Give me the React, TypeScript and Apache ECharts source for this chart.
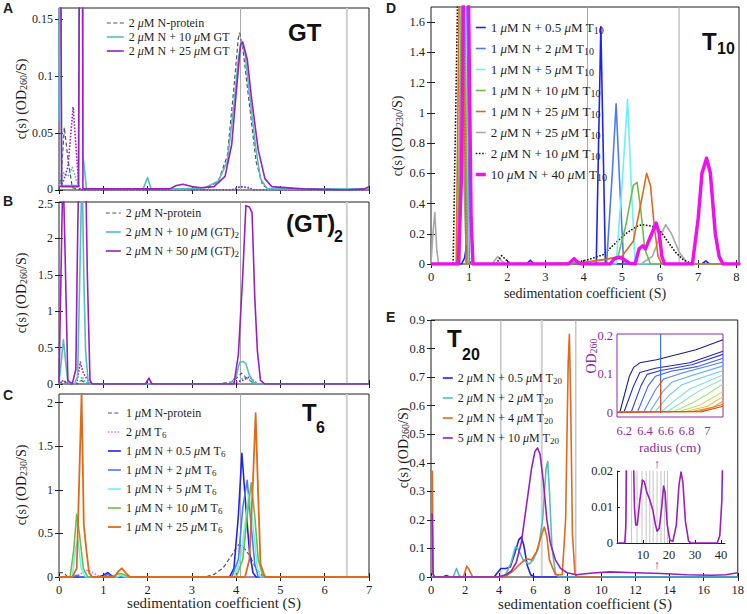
import React, { useEffect, useRef } from "react";
import * as echarts from "echarts";

const SERIF = "'Liberation Serif', 'Times New Roman', serif";
const SANS = "'Liberation Sans', Arial, sans-serif";
const INK = "#1f1f1f";
const PURPLE_AX = "#8e2aa0";

// ---------- tick values ----------
const abcXTicks = [0, 1, 2, 3, 4, 5, 6, 7];
const aYTicks = [0, 0.05, 0.1, 0.15];
const bYTicks = [0, 0.5, 1, 1.5, 2, 2.5];
const cYTicks = [0, 0.5, 1, 1.5, 2];
const dXTicks = [0, 1, 2, 3, 4, 5, 6, 7, 8];
const dYTicks = [0, 0.2, 0.4, 0.6, 0.8, 1, 1.2, 1.4, 1.6];
const eXTicks = [0, 2, 4, 6, 8, 10, 12, 14, 16, 18];
const eYTicks = [0, 0.1, 0.2, 0.3, 0.4, 0.5, 0.6, 0.7, 0.8, 0.9];
const radiusTicks = [6.2, 6.4, 6.6, 6.8, 7];
const odTicks = [0, 0.1, 0.2];
const zoomXTicks = [10, 20, 30, 40];
const zoomYTicks = [0, 0.01, 0.02];

// ---------- reference lines (S) ----------
const refLinesABC = [4.1, 6.5];
const refLinesD = [4.1, 6.5];
const refLinesE = [4.1, 6.5, 8.5];
const refLinesZoom = [3.4, 5.6, 7.7, 9.6, 11.2, 12.6, 13.9, 15.4, 16.9, 18.2, 19.4];

// ---------- Panel A : GT ----------
const aNprot = [[0, 0], [0.05, 0.012], [0.12, 0.055], [0.2, 0.028], [0.3, 0.002], [0.5, 0], [3.3, 0], [3.6, 0.008], [3.8, 0.03], [3.95, 0.09], [4.05, 0.134], [4.08, 0.138], [4.15, 0.125], [4.3, 0.075], [4.45, 0.025], [4.6, 0.004], [4.8, 0], [7, 0]];
const aN10 = [[0, 0.06], [0.03, 0.4], [0.06, 0.004], [0.44, 0.004], [0.48, 0.4], [0.52, 0.4], [0.535, 0.03], [0.56, 0.024], [0.62, 0.001], [1.9, 0.001], [2.0, 0.011], [2.08, 0.001], [2.8, 0.001], [3.3, 0.002], [3.6, 0.008], [3.8, 0.025], [3.95, 0.075], [4.05, 0.115], [4.12, 0.131], [4.2, 0.12], [4.3, 0.085], [4.45, 0.035], [4.55, 0.01], [4.7, 0.001], [7, 0.001]];
const aN25 = [[0, 0.3], [0.03, 0.3], [0.06, 0.003], [0.44, 0.003], [0.48, 0.4], [0.53, 0.4], [0.54, 0.001], [2.5, 0.001], [2.65, 0.004], [2.8, 0.005], [3.0, 0.003], [3.2, 0.002], [3.5, 0.003], [3.75, 0.012], [3.9, 0.04], [4.0, 0.085], [4.1, 0.128], [4.15, 0.13], [4.25, 0.115], [4.35, 0.08], [4.5, 0.035], [4.65, 0.01], [4.8, 0.003], [5.5, 0.001], [6.5, 0], [6.9, 0.001], [7, 0.003]];
const aN10dot = [[0, 0.004], [0.1, 0.015], [0.2, 0.012], [0.3, 0.02], [0.4, 0.008], [0.5, 0], [3.9, 0], [4.1, 0.003], [4.25, 0.002], [4.4, 0], [7, 0]];
const aN25dot = [[0, 0], [0.1, 0.008], [0.2, 0.02], [0.32, 0.073], [0.38, 0.04], [0.45, 0.002], [0.5, 0], [3.9, 0], [4.1, 0.003], [4.3, 0.002], [4.4, 0], [7, 0]];

// ---------- Panel B : (GT)2 ----------
const bNprot = [[0, 0], [0.05, 0.02], [0.1, 0.05], [0.15, 0.02], [0.25, 0], [0.45, 0], [0.5, 0.05], [0.6, 0.02], [0.7, 0], [3.6, 0], [3.9, 0.03], [4.05, 0.1], [4.12, 0.15], [4.2, 0.1], [4.35, 0.03], [4.5, 0], [7, 0]];
const bN10 = [[0, 0.02], [0.05, 0.3], [0.1, 0.61], [0.15, 0.3], [0.2, 0.02], [0.35, 0], [0.42, 0.1], [0.47, 1.5], [0.52, 3], [0.56, 1.5], [0.6, 0.45], [0.66, 0.02], [0.72, 0], [3.85, 0], [4.0, 0.1], [4.08, 0.3], [4.15, 0.31], [4.22, 0.28], [4.3, 0.12], [4.4, 0.02], [4.5, 0], [7, 0]];
const bN50 = [[0, 0.02], [0.06, 2], [0.09, 3], [0.13, 2], [0.2, 0.05], [0.3, 0], [0.38, 0.2], [0.42, 2], [0.45, 3], [0.6, 3], [0.64, 1.5], [0.7, 0.05], [0.75, 0], [1.95, 0], [2.03, 0.08], [2.1, 0], [3.95, 0], [4.05, 0.4], [4.15, 1.5], [4.22, 2.45], [4.3, 2.43], [4.36, 2.35], [4.42, 1.2], [4.48, 0.45], [4.55, 0.05], [4.65, 0], [7, 0]];
const bN10dot = [[0, 0], [0.45, 0], [0.52, 0.1], [0.6, 0.02], [0.7, 0], [3.9, 0], [4.1, 0.05], [4.2, 0.1], [4.3, 0.05], [4.45, 0], [7, 0]];
const bN50dot = [[0, 0.02], [0.1, 0.05], [0.2, 0], [0.4, 0], [0.48, 0.3], [0.55, 0.15], [0.65, 0.05], [0.75, 0], [3.9, 0], [4.15, 0.05], [4.3, 0.1], [4.4, 0.04], [4.5, 0], [7, 0]];

// ---------- Panel C : T6 ----------
const cNprot = [[0, 0.05], [0.1, 0.05], [0.2, 0], [3.3, 0], [3.5, 0.03], [3.7, 0.1], [3.9, 0.25], [4.05, 0.37], [4.15, 0.35], [4.3, 0.25], [4.45, 0.1], [4.6, 0.01], [4.8, 0], [7, 0]];
const cT6 = [[0, 0], [0.35, 0], [0.5, 0.04], [0.65, 0.08], [0.8, 0.04], [0.95, 0], [7, 0]];
const cN05 = [[0, 0], [0.9, 0], [1.0, 0.02], [1.1, 0.05], [1.2, 0.01], [1.3, 0], [3.85, 0], [3.95, 0.1], [4.05, 0.7], [4.13, 1.42], [4.22, 0.8], [4.3, 0.3], [4.38, 0.05], [4.45, 0], [7, 0]];
const cN2 = [[0, 0], [0.3, 0], [0.4, 0.02], [0.5, 0], [1.0, 0], [1.1, 0.03], [1.2, 0], [3.9, 0], [4.05, 0.2], [4.15, 0.8], [4.25, 1.11], [4.32, 0.7], [4.42, 0.15], [4.5, 0], [7, 0]];
const cN5 = [[0, 0], [0.3, 0], [0.38, 0.35], [0.43, 0.42], [0.5, 0.1], [0.6, 0], [1.3, 0], [1.4, 0.02], [1.5, 0], [3.95, 0], [4.1, 0.2], [4.2, 0.6], [4.29, 0.95], [4.38, 0.6], [4.48, 0.1], [4.55, 0], [7, 0]];
const cN10 = [[0, 0], [0.25, 0], [0.33, 0.3], [0.4, 0.72], [0.46, 0.5], [0.55, 0.1], [0.65, 0], [1.2, 0], [1.3, 0.03], [1.4, 0.04], [1.5, 0.02], [1.6, 0], [4.0, 0], [4.15, 0.2], [4.25, 0.7], [4.34, 1.08], [4.42, 0.7], [4.5, 0.2], [4.6, 0.02], [4.7, 0], [7, 0]];
const cN25 = [[0, 0], [0.3, 0], [0.4, 0.1], [0.45, 1.0], [0.51, 2.1], [0.56, 0.6], [0.62, 0.3], [0.68, 0.05], [0.75, 0], [1.25, 0], [1.35, 0.07], [1.42, 0.1], [1.5, 0.05], [1.6, 0], [4.2, 0], [4.3, 0.2], [4.38, 1.1], [4.44, 1.88], [4.5, 0.9], [4.55, 0.15], [4.65, 0], [7, 0]];

// ---------- Panel D : T10 ----------
const dN05 = [[0, 0], [0.8, 0], [0.88, 0.04], [0.93, 0.12], [0.98, 0.02], [1.05, 0], [2.5, 0], [2.6, 0.025], [2.7, 0], [4.33, 0], [4.45, 1.57], [4.57, 0], [7.1, 0], [7.2, 0.02], [7.3, 0], [8.1, 0]];
const dN2 = [[0, 0], [0.75, 0], [0.85, 1.8], [0.93, 1.8], [1.0, 0], [4.6, 0], [4.75, 0.6], [4.85, 1.06], [4.95, 0.5], [5.05, 0], [8.1, 0]];
const dN5 = [[0, 0], [0.72, 0], [0.82, 1.8], [0.9, 1.8], [0.98, 0], [3.7, 0], [3.8, 0.02], [3.9, 0], [4.85, 0], [5.0, 0.5], [5.15, 1.09], [5.25, 0.5], [5.35, 0], [8.1, 0]];
const dN10 = [[0, 0], [0.7, 0], [0.8, 1.8], [0.88, 1.8], [0.96, 0], [2.2, 0], [2.3, 0.005], [2.5, 0], [4.0, 0.01], [4.6, 0.03], [4.9, 0.05], [5.1, 0.25], [5.3, 0.52], [5.4, 0.54], [5.5, 0.35], [5.6, 0.1], [5.75, 0], [8.1, 0]];
const dN25 = [[0, 0], [0.66, 0], [0.74, 1.8], [0.84, 1.8], [0.92, 0], [3.7, 0], [4.0, 0.01], [4.5, 0.03], [5.0, 0.05], [5.3, 0.15], [5.5, 0.4], [5.65, 0.6], [5.75, 0.52], [5.85, 0.25], [5.95, 0.05], [6.05, 0], [8.1, 0]];
const d2N25 = [[0, 0], [0.05, 0.2], [0.1, 0.34], [0.15, 0.1], [0.2, 0], [0.7, 0], [0.8, 1.8], [0.87, 0.5], [0.93, 0], [1.6, 0], [1.75, 0.05], [1.85, 0.02], [1.95, 0], [5.5, 0], [5.8, 0.05], [6.0, 0.18], [6.15, 0.26], [6.3, 0.2], [6.5, 0.08], [6.7, 0.01], [6.8, 0], [8.1, 0]];
const d2N10 = [[0, 0], [0.58, 0], [0.7, 1.8], [0.86, 1.8], [0.95, 0.2], [1.02, 0], [1.7, 0], [1.85, 0.055], [2.0, 0.02], [2.1, 0], [3.0, 0], [3.5, 0.005], [4.0, 0.02], [4.5, 0.06], [4.8, 0.13], [5.1, 0.2], [5.4, 0.25], [5.55, 0.26], [5.8, 0.25], [6.0, 0.22], [6.2, 0.15], [6.4, 0.08], [6.6, 0.03], [6.8, 0.005], [7.0, 0], [8.1, 0]];
const d10N40 = [[0, 0], [0.72, 0], [0.8, 0.6], [0.85, 1.8], [0.98, 1.8], [1.05, 0.3], [1.1, 0], [3.6, 0], [3.75, 0.035], [3.85, 0.01], [3.95, 0], [4.7, 0], [4.8, 0.035], [4.95, 0.045], [5.05, 0.03], [5.2, 0.005], [5.35, 0], [5.45, 0.1], [5.55, 0.12], [5.62, 0.1], [5.75, 0.18], [5.9, 0.27], [5.98, 0.2], [6.05, 0.05], [6.12, 0], [6.85, 0], [7.0, 0.3], [7.1, 0.6], [7.22, 0.7], [7.32, 0.6], [7.45, 0.2], [7.55, 0.05], [7.65, 0], [8.1, 0]];

// ---------- Panel E : T20 ----------
const eN05 = [[0, 0], [0.7, 0], [0.9, 0.005], [1.1, 0], [3.7, 0], [3.9, 0.015], [4.1, 0.03], [4.4, 0.03], [4.65, 0.035], [4.9, 0.08], [5.15, 0.13], [5.3, 0.14], [5.45, 0.11], [5.65, 0.04], [5.85, 0.008], [6.1, 0], [18, 0]];
const eN2 = [[0, 0], [1.3, 0], [1.5, 0.03], [1.65, 0.005], [1.8, 0], [4.0, 0], [4.4, 0.01], [4.7, 0.05], [4.95, 0.105], [5.1, 0.1], [5.4, 0.06], [5.75, 0.045], [6.0, 0.06], [6.3, 0.1], [6.55, 0.2], [6.75, 0.38], [6.85, 0.405], [6.95, 0.3], [7.1, 0.1], [7.3, 0.015], [7.5, 0], [18, 0]];
const eN4 = [[0, 0.37], [0.08, 0.37], [0.12, 0.01], [0.2, 0], [1.9, 0], [2.1, 0.038], [2.2, 0.03], [2.45, 0], [4.3, 0], [4.8, 0.02], [5.3, 0.05], [5.6, 0.064], [5.9, 0.06], [6.2, 0.09], [6.5, 0.15], [6.65, 0.175], [6.8, 0.14], [6.95, 0.06], [7.3, 0.008], [7.7, 0.008], [7.9, 0.2], [8.05, 0.75], [8.12, 0.85], [8.2, 0.6], [8.3, 0.15], [8.45, 0.01], [8.6, 0], [10, 0]];
const eN10 = [[0, 0.22], [0.07, 0.22], [0.12, 0.01], [0.2, 0], [3.9, 0], [4.3, 0.005], [4.7, 0.02], [5.0, 0.05], [5.3, 0.12], [5.6, 0.25], [5.9, 0.38], [6.1, 0.44], [6.25, 0.452], [6.4, 0.43], [6.6, 0.33], [6.8, 0.2], [7.0, 0.12], [7.3, 0.06], [7.6, 0.03], [8.0, 0.015], [8.5, 0.008], [9.5, 0.014], [10.5, 0.018], [12, 0.015], [13.5, 0.012], [15, 0.008], [16.5, 0.006], [17.3, 0.008], [18, 0.015]];

// ---------- Inset: radial absorbance scans (radius cm, OD260) ----------
const scanColors = ["#1b1b8a", "#2424b8", "#2f3fd8", "#3d5ff0", "#4f83f8", "#62a8fa", "#72cbf0", "#7fe0de", "#8ee6b4", "#a6e67e", "#c8de52", "#e6c43e", "#eea032", "#e6782a", "#d84a20"];
const scans = [
  [[6.13, 0.003], [6.16, 0.004], [6.25, 0.096], [6.29, 0.118], [6.35, 0.13], [6.51, 0.138], [6.7, 0.151], [6.89, 0.164], [7.15, 0.19]],
  [[6.13, 0.003], [6.2, 0.004], [6.29, 0.07], [6.35, 0.105], [6.5, 0.116], [6.83, 0.13], [7.15, 0.16]],
  [[6.13, 0.003], [6.27, 0.004], [6.36, 0.07], [6.42, 0.1], [6.55, 0.11], [6.85, 0.125], [7.15, 0.152]],
  [[6.13, 0.003], [6.33, 0.004], [6.43, 0.07], [6.5, 0.095], [6.65, 0.108], [6.9, 0.12], [7.15, 0.142]],
  [[6.13, 0.003], [6.39, 0.004], [6.5, 0.06], [6.58, 0.088], [6.75, 0.103], [7.15, 0.132]],
  [[6.13, 0.003], [6.45, 0.004], [6.57, 0.055], [6.66, 0.08], [6.85, 0.097], [7.15, 0.122]],
  [[6.13, 0.003], [6.5, 0.004], [6.63, 0.045], [6.75, 0.072], [6.95, 0.092], [7.15, 0.11]],
  [[6.13, 0.003], [6.56, 0.004], [6.7, 0.035], [6.83, 0.062], [7.15, 0.098]],
  [[6.13, 0.003], [6.62, 0.004], [6.77, 0.03], [6.92, 0.057], [7.15, 0.088]],
  [[6.13, 0.003], [6.68, 0.004], [6.85, 0.025], [7.0, 0.048], [7.15, 0.075]],
  [[6.13, 0.003], [6.74, 0.004], [6.93, 0.02], [7.15, 0.055]],
  [[6.13, 0.003], [6.8, 0.004], [7.0, 0.017], [7.15, 0.042]],
  [[6.13, 0.003], [6.86, 0.004], [7.05, 0.014], [7.15, 0.03]],
  [[6.13, 0.002], [6.92, 0.004], [7.15, 0.022]],
  [[6.13, 0.001], [6.95, 0.003], [7.15, 0.017]],
];
const scanSpikeBlue = [[6.55, 0], [6.55, 0.205]];
const scanSpikeRed = [[6.55, 0], [6.55, 0.088]];

// ---------- Inset: zoomed c(s) of 5 uM N + 10 uM T20 ----------
const zoomCs = [[0, 0], [3.0, 0], [3.4, 0.005], [3.7, 0.025], [6.3, 0.025], [6.7, 0.01], [7.2, 0.005], [7.8, 0.005], [8.8, 0.012], [9.8, 0.0175], [10.5, 0.017], [11.5, 0.014], [12.6, 0.012], [13.8, 0.009], [14.8, 0.005], [15.4, 0.0033], [16.2, 0.004], [17.2, 0.01], [17.9, 0.0158], [18.5, 0.014], [19.3, 0.005], [20.3, 0.0008], [21.5, 0.0005], [22.8, 0.005], [23.8, 0.016], [24.6, 0.0197], [25.3, 0.017], [26.3, 0.006], [27.5, 0.0005], [28.5, 0], [38.5, 0], [39.5, 0.002], [40.3, 0.012], [40.6, 0.025]];

// ---------- legend labels ----------
const legA = ["2 {i|μ}M N-protein", "2 {i|μ}M N + 10 {i|μ}M GT", "2 {i|μ}M N + 25 {i|μ}M GT"];
const legB = ["2 {i|μ}M N-protein", "2 {i|μ}M N + 10 {i|μ}M (GT){s|2}", "2 {i|μ}M N + 50 {i|μ}M (GT){s|2}"];
const legC = ["1 {i|μ}M N-protein", "2 {i|μ}M T{s|6}", "1 {i|μ}M N + 0.5 {i|μ}M T{s|6}", "1 {i|μ}M N + 2 {i|μ}M T{s|6}", "1 {i|μ}M N + 5 {i|μ}M T{s|6}", "1 {i|μ}M N + 10 {i|μ}M T{s|6}", "1 {i|μ}M N + 25 {i|μ}M T{s|6}"];
const legD = ["1 {i|μ}M N + 0.5 {i|μ}M T{s|10}", "1 {i|μ}M N + 2 {i|μ}M T{s|10}", "1 {i|μ}M N + 5 {i|μ}M T{s|10}", "1 {i|μ}M N + 10 {i|μ}M T{s|10}", "1 {i|μ}M N + 25 {i|μ}M T{s|10}", "2 {i|μ}M N + 25 {i|μ}M T{s|10}", "2 {i|μ}M N + 10 {i|μ}M T{s|10}", "10 {i|μ}M N + 40 {i|μ}M T{s|10}"];
const legE = ["2 {i|μ}M N + 0.5 {i|μ}M T{s|20}", "2 {i|μ}M N + 2 {i|μ}M T{s|20}", "2 {i|μ}M N + 4 {i|μ}M T{s|20}", "5 {i|μ}M N + 10 {i|μ}M T{s|20}"];

// ---------- helpers ----------
function rich(fs: number, color = INK) {
  const sfs = Math.round(fs * 0.74);
  return {
    s: { fontSize: sfs, lineHeight: sfs, padding: [Math.round(fs * 0.6), 0, 0, 0], verticalAlign: "bottom", fontFamily: SERIF, color, fill: color },
    i: { fontSize: fs, fontStyle: "italic", fontFamily: SERIF, color, fill: color },
  };
}

const tick = (vals: number[], len = 4, color = INK) => ({ show: true, inside: true, length: len, customValues: vals, lineStyle: { color, width: 1 } });
const label = (vals: number[], show: boolean, fs = 12, margin = 6, color = INK) => ({ show, customValues: vals, fontFamily: SERIF, fontSize: fs, color, margin });

function xPair(g: number, max: number, ticks: number[], showLabels: boolean, fs = 12) {
  const base = { type: "value", gridIndex: g, min: 0, max, splitLine: { show: false }, axisLine: { show: false } };
  return [
    { ...base, position: "bottom", axisTick: tick(ticks), axisLabel: label(ticks, showLabels, fs, 6) },
    { ...base, position: "top", axisTick: tick(ticks), axisLabel: { show: false } },
  ];
}
// nudge: shift the bottom label up (>0) or the top label down (<0) a little, to keep stacked panels' labels apart
function yPair(g: number, max: number, ticks: number[], fs = 12, nudgeBottom = 0, nudgeTop = 0) {
  const base = { type: "value", gridIndex: g, min: 0, max, splitLine: { show: false }, axisLine: { show: false } };
  const lastTick = ticks[ticks.length - 1];
  const axisLabel: any = {
    ...label(ticks, true, fs, 6),
    formatter: (v: number) => (v === 0 && nudgeBottom ? "{b|" + v + "}" : v === lastTick && nudgeTop ? "{t|" + v + "}" : String(v)),
    rich: {
      b: { fontFamily: SERIF, fontSize: fs, color: INK, padding: [0, 0, nudgeBottom * 2, 0] },
      t: { fontFamily: SERIF, fontSize: fs, color: INK, padding: [nudgeTop * 2, 0, 0, 0] },
    },
  };
  return [
    { ...base, position: "left", axisTick: tick(ticks), axisLabel },
    { ...base, position: "right", axisTick: tick(ticks), axisLabel: { show: false } },
  ];
}

function ln(name: string, data: number[][], axis: number, color: string, width = 1.5, type: any = "solid") {
  return {
    type: "line", name, data, xAxisIndex: axis, yAxisIndex: axis, symbol: "none", showSymbol: false,
    itemStyle: { color }, lineStyle: { color, width, type, cap: "butt", join: "round" },
    silent: true, clip: true, animation: false,
  };
}
function refs(vals: number[], axis: number, ymax: number, styles: { color: string; width: number }[]) {
  return vals.map((v, k) => ln("", [[v, 0], [v, ymax]], axis, styles[k].color, styles[k].width));
}

function legend(names: string[], left: number, top: number, fs: number, gap: number, iw: number) {
  return {
    show: true, orient: "vertical", left, top, padding: 0, itemGap: gap, itemWidth: iw, itemHeight: 10,
    selectedMode: false, data: names,
    lineStyle: { width: "inherit" }, itemStyle: { opacity: 0 },
    textStyle: { fontFamily: SERIF, fontSize: fs, color: INK, lineHeight: fs + 2, rich: rich(fs) },
  };
}

function txt(text: string, x: number, y: number, opts: any = {}) {
  return {
    type: "text", x, y, rotation: opts.rotation || 0, z: 50, silent: true,
    style: {
      text, fill: opts.color || INK, fontFamily: opts.family || SERIF, fontSize: opts.size || 12,
      fontWeight: opts.weight || "normal", align: opts.align || "center", verticalAlign: "middle",
      rich: opts.rich,
    },
  };
}

// colors
const GRAYD = "#555555";
const TEAL = "#52bfbf";
const PURP = "#9b1fbf";
const BLUE = "#1e22f5";
const MBLUE = "#4d7cf2";
const LCYAN = "#6cf0fa";
const GREEN = "#6cbf44";
const ORANGE = "#e0691c";
const LGRAY = "#a8a8a8";
const MAG = "#ee11ee";
const PINK = "#d27be6";

function buildOption() {
  const gridBox = { show: true, borderColor: INK, borderWidth: 1, backgroundColor: "transparent", containLabel: false };
  const grid = [
    { ...gridBox, left: 59, top: 8, width: 310, height: 182 },
    { ...gridBox, left: 59, top: 202, width: 310, height: 182 },
    { ...gridBox, left: 59, top: 394, width: 310, height: 183 },
    { ...gridBox, left: 431, top: 7, width: 308, height: 257 },
    { ...gridBox, left: 431, top: 320, width: 308, height: 257 },
    { show: true, borderColor: PURPLE_AX, borderWidth: 1, backgroundColor: "#fff", left: 617, top: 334, width: 106, height: 83, containLabel: false },
    { show: true, borderWidth: 0, backgroundColor: "#fff", left: 617, top: 471, width: 108, height: 72, containLabel: false },
  ];

  const xAxis: any[] = [
    ...xPair(0, 7, abcXTicks, false),
    ...xPair(1, 7, abcXTicks, false),
    ...xPair(2, 7, abcXTicks, true, 12.5),
    ...xPair(3, 8.07, dXTicks, true, 12.5),
    ...xPair(4, 18, eXTicks, true, 12.5),
    { type: "value", gridIndex: 5, min: 6.13, max: 7.15, splitLine: { show: false }, axisLine: { show: false }, axisTick: { show: false }, axisLabel: label(radiusTicks, true, 12.5, 7, PURPLE_AX) },
    { type: "value", gridIndex: 6, min: 0, max: 41.5, splitLine: { show: false }, axisLine: { show: true, onZero: false, lineStyle: { color: INK } }, axisTick: tick(zoomXTicks, 3), axisLabel: label(zoomXTicks, true, 12.5, 5) },
  ];
  const yAxis: any[] = [
    ...yPair(0, 0.16, aYTicks, 12, 1.5, 0),
    ...yPair(1, 2.5, bYTicks, 12, 0, 1.5),
    ...yPair(2, 2.1, cYTicks),
    ...yPair(3, 1.7, dYTicks, 12.5),
    ...yPair(4, 0.9, eYTicks, 12.5),
    { type: "value", gridIndex: 5, min: -0.011, max: 0.205, splitLine: { show: false }, axisLine: { show: false }, axisTick: { show: false }, axisLabel: label(odTicks, true, 12.5, 4, PURPLE_AX) },
    { type: "value", gridIndex: 6, min: 0, max: 0.02, splitLine: { show: false }, axisLine: { show: true, onZero: false, lineStyle: { color: INK } }, axisTick: tick(zoomYTicks, 3), axisLabel: label(zoomYTicks, true, 12.5, 4) },
  ];

  const thin = { color: LGRAY, width: 1 };
  const thick = { color: "#cfcfcf", width: 2 };
  const dash: any = [4, 2.5];
  const dot: any = [1.6, 1.6];

  const series: any[] = [
    // A (axis 0)
    ...refs(refLinesABC, 0, 0.16, [thin, thick]),
    ln(legA[0], aNprot, 0, GRAYD, 1.2, dash),
    ln("A-10-dotted", aN10dot, 0, TEAL, 1.6, dot),
    ln("A-25-dotted", aN25dot, 0, PURP, 1.6, dot),
    ln(legA[1], aN10, 0, TEAL, 1.6),
    ln(legA[2], aN25, 0, PURP, 1.6),
    // B (axis 2)
    ...refs(refLinesABC, 2, 2.5, [thin, thick]),
    ln(legB[0], bNprot, 2, GRAYD, 1.2, dash),
    ln("B-10-dotted", bN10dot, 2, TEAL, 1.6, dot),
    ln("B-50-dotted", bN50dot, 2, PURP, 1.6, dot),
    ln(legB[1], bN10, 2, TEAL, 1.6),
    ln(legB[2], bN50, 2, PURP, 1.6),
    // C (axis 4)
    ...refs(refLinesABC, 4, 2.1, [thin, thick]),
    ln(legC[0], cNprot, 4, GRAYD, 1.2, dash),
    ln(legC[1], cT6, 4, PINK, 1.6, dot),
    ln(legC[2], cN05, 4, BLUE, 1.6),
    ln(legC[3], cN2, 4, MBLUE, 1.6),
    ln(legC[4], cN5, 4, LCYAN, 1.6),
    ln(legC[5], cN10, 4, GREEN, 1.6),
    ln(legC[6], cN25, 4, ORANGE, 1.8),
    // D (axis 6)
    ...refs(refLinesD, 6, 1.7, [thin, thin]),
    ln(legD[5], d2N25, 6, LGRAY, 1.6),
    ln(legD[6], d2N10, 6, "#111111", 1.6, dot),
    ln(legD[0], dN05, 6, BLUE, 1.6),
    ln(legD[1], dN2, 6, MBLUE, 1.6),
    ln(legD[2], dN5, 6, LCYAN, 1.6),
    ln(legD[3], dN10, 6, GREEN, 1.6),
    ln(legD[4], dN25, 6, ORANGE, 1.6),
    ln(legD[7], d10N40, 6, MAG, 3.5),
    // E (axis 8)
    ...refs(refLinesE, 8, 0.9, [thin, thick, thin]),
    ln(legE[0], eN05, 8, BLUE, 1.6),
    ln(legE[1], eN2, 8, TEAL, 1.6),
    ln(legE[2], eN4, 8, ORANGE, 1.6),
    ln(legE[3], eN10, 8, PURP, 1.6),
    // inset radial scans (axis 10)
    ...scans.map((d, k) => ln("scan" + k, d, 10, scanColors[k], 1.1)),
    ln("scanSpikeBlue", scanSpikeBlue, 10, "#2a6af0", 1.1),
    ln("scanSpikeRed", scanSpikeRed, 10, "#d85020", 1.1),
    // inset zoom c(s) (axis 11)
    ...refs(refLinesZoom, 11, 0.02, refLinesZoom.map(() => ({ color: "#c4c4c4", width: 1 }))),
    ln("zoomCs", zoomCs, 11, PURP, 1.6),
  ];

  const legendArr = [
    legend(legA, 106, 16, 12, 0, 17),
    legend(legB, 105, 206, 12, 3, 15),
    legend(legC, 107, 406, 12, 3, 13),
    legend(legD, 474, 17, 13, 3, 10),
    legend(legE, 442, 369, 12, 4, 10),
  ];

  const yTitle = (sub: string) => "c(s) (OD{s|" + sub + "}/S)";
  const xTitle = "sedimentation coefficient (S)";
  const r14 = rich(14);
  const graphic = [
    // panel letters
    txt("A", 3, 8, { family: SANS, weight: "bold", size: 14, align: "left" }),
    txt("B", 3, 201, { family: SANS, weight: "bold", size: 14, align: "left" }),
    txt("C", 3, 395, { family: SANS, weight: "bold", size: 14, align: "left" }),
    txt("D", 386, 8, { family: SANS, weight: "bold", size: 14, align: "left" }),
    txt("E", 386, 317, { family: SANS, weight: "bold", size: 14, align: "left" }),
    // big titles
    txt("GT", 288, 32, { family: SANS, weight: "bold", size: 24, align: "left", color: "#111" }),
    txt("(GT)", 286, 223, { family: SANS, weight: "bold", size: 24, align: "left", color: "#111" }),
    txt("2", 334, 236, { family: SANS, weight: "bold", size: 16, align: "left", color: "#111" }),
    txt("T", 302, 412, { family: SANS, weight: "bold", size: 24, align: "left", color: "#111" }),
    txt("6", 316, 427, { family: SANS, weight: "bold", size: 16, align: "left", color: "#111" }),
    txt("T", 702, 41, { family: SANS, weight: "bold", size: 24, align: "left", color: "#111" }),
    txt("10", 717, 48, { family: SANS, weight: "bold", size: 16, align: "left", color: "#111" }),
    txt("T", 447, 338, { family: SANS, weight: "bold", size: 24, align: "left", color: "#111" }),
    txt("20", 462, 354, { family: SANS, weight: "bold", size: 16, align: "left", color: "#111" }),
    // axis titles
    txt(yTitle("260"), 21, 99, { size: 14, rotation: Math.PI / 2, rich: r14 }),
    txt(yTitle("260"), 21, 293, { size: 14, rotation: Math.PI / 2, rich: r14 }),
    txt(yTitle("230"), 21, 485, { size: 14, rotation: Math.PI / 2, rich: r14 }),
    txt(yTitle("230"), 397, 136, { size: 14, rotation: Math.PI / 2, rich: r14 }),
    txt(yTitle("260"), 403, 448, { size: 14, rotation: Math.PI / 2, rich: r14 }),
    txt(xTitle, 214, 603, { size: 15 }),
    txt(xTitle, 585, 293, { size: 14 }),
    txt(xTitle, 585, 604, { size: 15 }),
    // inset texts
    txt("OD{s|260}", 591, 356, { size: 14, rotation: Math.PI / 2, color: PURPLE_AX, rich: rich(14, PURPLE_AX) }),
    txt("radius (cm)", 670, 447, { size: 13.5, color: PURPLE_AX }),
    txt("↑", 657, 463, { size: 13, color: PURPLE_AX }),
    txt("↑", 657, 564, { size: 13, color: PURPLE_AX }),
  ];

  return {
    animation: false,
    backgroundColor: "#ffffff",
    grid, xAxis, yAxis, series,
    legend: legendArr,
    graphic: { elements: graphic },
  };
}

export default function App() {
  const ref = useRef<HTMLDivElement>(null);
  useEffect(() => {
    if (!ref.current) return;
    const chart = echarts.init(ref.current, null, { renderer: "svg" });
    chart.setOption(buildOption() as any);
    return () => chart.dispose();
  }, []);
  return <div ref={ref} style={{ position: "fixed", left: 0, top: 0, width: 747, height: 614, background: "#fff" }} />;
}
